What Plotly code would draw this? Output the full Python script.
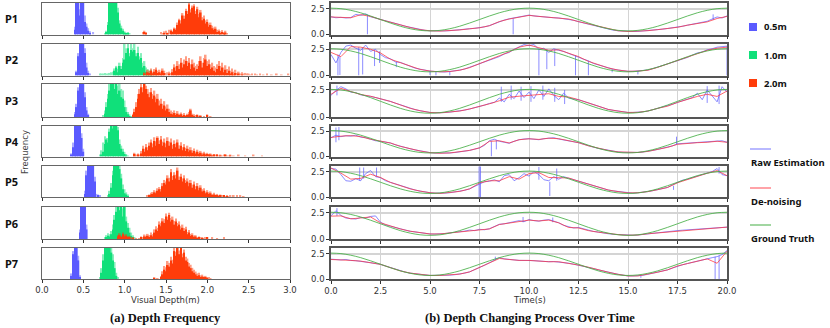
import plotly.graph_objects as go

# ---------------- histogram data (heights in % of panel) ----------------
BIN_W = 0.02

P1_STARTS = (0.40, 0.76, 1.20)
P1_BLUE_DEN = [15, 100, 100, 60, 100, 100, 40, 25, 12, 5]
P1_BLUE_RAW = [25, 100, 100, 80, 100, 100, 60, 35, 20, 10, 0, 8]
P1_GREEN_DEN = [0, 8, 30, 100, 100, 100, 100, 100, 70, 35, 20, 12, 6, 3, 5]
P1_GREEN_RAW = [5, 12, 40, 100, 100, 100, 100, 100, 85, 45, 28, 18, 10, 6, 8, 4]
P1_RED_DEN = [0, 0, 8, 5, 0, 0, 0, 0, 0, 0, 0, 0, 0, 0, 4, 0, 5, 0, 12, 8, 18, 15, 30, 45, 35, 60, 50, 75, 65, 95,
              70, 85, 90, 65, 80, 55, 70, 45, 50, 35, 40, 25, 30, 20, 15, 18, 8, 10, 5, 8, 4, 6, 0]
P1_RED_RAW = [0, 8, 12, 8, 0, 0, 0, 0, 0, 0, 0, 0, 8, 5, 10, 12, 6, 15, 16, 12, 22, 20, 38, 50, 45, 68, 60, 82, 75, 100,
              80, 92, 96, 75, 88, 65, 78, 55, 60, 45, 48, 35, 38, 28, 22, 25, 15, 16, 10, 14, 8, 12, 4]

P2_STARTS = (0.42, 0.70, 1.24)
P2_BLUE_DEN = [10, 60, 100, 100, 100, 70, 25, 8]
P2_BLUE_RAW = [15, 70, 100, 100, 100, 85, 40, 15, 6]
P2_GREEN_DEN = [0, 0, 0, 0, 0, 0, 0, 0, 0, 15, 25, 10, 30, 20, 40, 50, 70, 85, 60, 80, 75, 80, 60, 70, 50, 55, 25, 30,
                12, 8, 5, 8, 0]
P2_GREEN_RAW = [5, 6, 4, 8, 6, 5, 8, 10, 12, 22, 30, 20, 40, 30, 55, 100, 85, 100, 70, 100, 85, 100, 70, 90, 60, 70, 40,
                45, 25, 20, 15, 18, 8, 10, 5]
P2_RED_DEN = [5, 0, 10, 8, 15, 5, 12, 18, 8, 10, 5, 15, 8, 0, 0, 5, 0, 10, 25, 15, 30, 20, 40, 25, 35, 45, 30, 40, 20, 35,
              25, 15, 20, 30, 45, 25, 40, 50, 30, 35, 20, 25, 15, 10, 20, 30, 15, 25, 10, 18, 8, 15, 5, 10, 3, 8, 0, 5, 0, 3]
P2_RED_RAW = [10, 8, 18, 15, 22, 12, 20, 25, 15, 18, 12, 22, 15, 8, 10, 12, 8, 20, 35, 28, 45, 35, 55, 40, 50, 60, 45, 55,
              35, 50, 40, 30, 35, 45, 60, 40, 55, 65, 45, 50, 35, 40, 30, 25, 35, 45, 30, 40, 25, 32, 20, 28, 15, 22, 12,
              18, 8, 12, 6, 10, 5, 8, 4, 6, 3, 5, 0, 4, 3, 0, 5, 0, 3, 0, 4, 0, 0, 3, 0, 0, 4, 0, 0, 3, 0, 0, 0, 4]

P3_STARTS = (0.40, 0.74, 1.10)
P3_BLUE_DEN = [8, 30, 80, 100, 100, 100, 60, 20, 5]
P3_BLUE_RAW = [15, 40, 90, 100, 100, 100, 75, 30, 10]
P3_GREEN_DEN = [0, 10, 30, 55, 80, 100, 100, 85, 100, 70, 80, 60, 55, 30, 15, 8, 3]
P3_GREEN_RAW = [5, 20, 45, 70, 100, 100, 100, 100, 100, 95, 100, 85, 80, 50, 30, 15, 8, 3]
P3_RED_DEN = [5, 15, 30, 55, 70, 90, 75, 100, 85, 70, 60, 75, 55, 65, 45, 55, 35, 40, 25, 35, 20, 25, 15, 10, 8, 12, 5,
              10, 4, 8, 3, 6, 2, 5, 8, 20, 5, 3, 0, 4, 0, 3, 0, 0, 0, 6]
P3_RED_RAW = [10, 25, 45, 70, 85, 100, 90, 100, 95, 85, 75, 88, 70, 80, 60, 70, 50, 55, 40, 48, 32, 38, 25, 20, 15, 20,
              12, 18, 10, 14, 8, 12, 6, 10, 15, 25, 10, 8, 4, 8, 3, 6, 0, 3, 0, 8, 0, 3]

P4_STARTS = (0.36, 0.70, 1.10)
P4_BLUE_DEN = [5, 30, 100, 100, 100, 100, 60, 15]
P4_BLUE_RAW = [10, 45, 100, 100, 100, 100, 75, 25]
P4_GREEN_DEN = [0, 5, 15, 40, 55, 45, 80, 100, 90, 100, 100, 85, 40, 25, 15, 8, 3]
P4_GREEN_RAW = [5, 20, 45, 65, 60, 60, 90, 100, 100, 100, 100, 95, 55, 35, 25, 15, 8, 3]
P4_RED_DEN = [0, 8, 0, 6, 0, 10, 25, 15, 30, 20, 35, 45, 30, 50, 35, 60, 40, 55, 35, 45, 30, 50, 35, 45, 25, 40, 30, 45,
              25, 35, 20, 30, 18, 25, 15, 20, 12, 18, 10, 15, 8, 12, 6, 10, 5, 8, 4, 6, 3, 5, 0, 4, 0, 3, 0, 0, 4, 0, 0, 3]
P4_RED_RAW = [0, 12, 5, 10, 4, 18, 35, 25, 40, 30, 45, 55, 42, 62, 48, 65, 52, 66, 48, 58, 42, 62, 48, 58, 38, 52, 42,
              55, 36, 46, 30, 40, 28, 35, 24, 30, 20, 26, 16, 22, 14, 18, 12, 15, 10, 12, 8, 10, 6, 8, 5, 7, 3, 6, 2, 4,
              6, 3, 2, 5, 0, 3, 0, 0, 4, 0, 0, 0, 3, 0, 0, 0, 0, 4, 0, 0, 0, 0, 3]

P5_STARTS = (0.52, 0.80, 1.28)
P5_BLUE_DEN = [10, 70, 100, 100, 100, 100, 50, 0, 5]
P5_BLUE_RAW = [20, 85, 100, 100, 100, 100, 65, 10, 8, 4]
P5_GREEN_DEN = [0, 10, 30, 70, 100, 100, 100, 90, 60, 25, 12, 8, 3]
P5_GREEN_RAW = [5, 20, 45, 85, 100, 100, 100, 100, 75, 40, 25, 15, 8]
P5_RED_DEN = [0, 4, 8, 10, 15, 12, 20, 25, 18, 35, 45, 40, 60, 50, 80, 55, 70, 60, 85, 55, 65, 50, 60, 45, 50, 35, 45,
              30, 40, 25, 35, 22, 30, 18, 20, 12, 15, 10, 12, 6, 8, 5, 6, 3, 5, 0, 4, 0, 3]
P5_RED_RAW = [4, 8, 14, 16, 22, 18, 28, 32, 26, 45, 55, 50, 70, 62, 90, 68, 80, 72, 95, 66, 75, 60, 70, 55, 60, 45, 55,
              40, 50, 35, 45, 30, 38, 25, 28, 18, 22, 15, 18, 10, 14, 8, 10, 6, 8, 4, 6, 3, 5, 2, 4, 0, 6, 0, 4, 0, 5, 0,
              3, 0]

P6_STARTS = (0.46, 0.76, 0.92)
P6_BLUE_DEN = [20, 100, 100, 100, 30]
P6_BLUE_RAW = [30, 100, 100, 100, 45]
P6_GREEN_DEN = [0, 5, 10, 8, 15, 30, 60, 85, 100, 90, 100, 70, 100, 55, 35, 20, 10, 5]
P6_GREEN_RAW = [5, 12, 18, 15, 25, 45, 75, 100, 100, 100, 100, 95, 100, 70, 50, 35, 20, 12, 5]
P6_RED_DEN = [8, 12, 5, 15, 8, 10, 4, 6, 0, 3, 0, 0, 0, 0, 4, 0, 8, 5, 10, 6, 12, 8, 20, 30, 25, 45, 40, 55, 50, 70, 60,
              75, 55, 60, 45, 55, 40, 45, 30, 35, 25, 30, 15, 20, 10, 12, 5, 8, 3, 5, 0, 3, 0, 0, 4]
P6_RED_RAW = [12, 18, 10, 20, 14, 15, 8, 10, 4, 6, 0, 3, 0, 3, 8, 5, 14, 10, 16, 12, 20, 15, 30, 40, 35, 55, 50, 65, 62,
              80, 70, 82, 66, 70, 56, 64, 50, 55, 40, 45, 34, 38, 22, 28, 16, 18, 10, 12, 6, 8, 4, 6, 3, 4, 6, 0, 0, 4,
              0, 0, 3, 0, 0, 0, 4]

P7_STARTS = (0.36, 0.70, 1.36)
P7_BLUE_DEN = [10, 80, 100, 100, 60, 5]
P7_BLUE_RAW = [18, 90, 100, 100, 75, 12]
P7_GREEN_DEN = [0, 20, 60, 100, 100, 100, 100, 85, 60, 35, 10]
P7_GREEN_RAW = [5, 35, 80, 100, 100, 100, 100, 100, 80, 55, 20, 5]
P7_RED_DEN = [3, 0, 0, 0, 5, 15, 30, 25, 45, 40, 60, 50, 90, 75, 100, 80, 100, 70, 85, 60, 55, 40, 35, 25, 20, 15, 10,
              12, 6, 8, 4, 5, 2]
P7_RED_RAW = [5, 0, 2, 0, 10, 25, 42, 38, 58, 52, 72, 62, 100, 88, 100, 92, 100, 82, 95, 72, 66, 52, 46, 36, 30, 24, 18,
              20, 12, 14, 8, 10, 5, 4, 3]

# ---------------- time-series data ----------------
T_DEN = [round(0.5 * i, 2) for i in range(41)]
T_RAW = [round(0.25 * i, 2) for i in range(81)]

GROUND_TRUTH = [2.55, 2.50, 2.34, 2.10, 1.79, 1.45, 1.11, 0.80, 0.56, 0.40,
                0.35, 0.40, 0.56, 0.80, 1.11, 1.45, 1.79, 2.10, 2.34, 2.50,
                2.55, 2.50, 2.34, 2.10, 1.79, 1.45, 1.11, 0.80, 0.56, 0.40,
                0.35, 0.40, 0.56, 0.80, 1.11, 1.45, 1.79, 2.10, 2.34, 2.50,
                2.55]

R1_RAW = [1.72, 1.62, 1.66, 1.60, 1.64, 1.95, 1.85, 2.00,
          1.72, 1.60, 1.48, 1.30, 1.17, 1.08, 0.94, 0.80,
          0.69, 0.56, 0.47, 0.40, 0.36, 0.34, 0.33, 0.35,
          0.37, 0.40, 0.45, 0.50, 0.56, 0.60, 0.66, 0.74,
          0.86, 1.05, 1.28, 1.40, 1.52, 1.60, 1.66, 1.78,
          1.88, 1.80, 1.74, 1.70, 1.67, 1.62, 1.60, 1.55,
          1.50, 1.38, 1.24, 1.12, 1.03, 0.90, 0.79, 0.64,
          0.52, 0.42, 0.36, 0.32, 0.29, 0.29, 0.30, 0.33,
          0.37, 0.42, 0.47, 0.52, 0.58, 0.63, 0.71, 0.80,
          0.90, 0.98, 1.06, 1.14, 1.28, 1.50, 1.70, 1.60,
          1.80]
R1_DEN = [1.70, 1.65, 1.62, 1.92, 1.75, 1.45, 1.18, 0.95, 0.68, 0.47,
          0.36, 0.33, 0.37, 0.44, 0.55, 0.65, 0.85, 1.25, 1.50, 1.65,
          1.85, 1.75, 1.68, 1.60, 1.50, 1.25, 1.02, 0.78, 0.52, 0.36,
          0.29, 0.30, 0.37, 0.47, 0.57, 0.70, 0.90, 1.06, 1.22, 1.55,
          1.75]
R1_SPIKES = [(1.84, 1.9, 0.0), (9.2, 1.55, 0.0), (19.3, 1.4, 1.95)]

R2_RAW = [2.00, 1.20, 2.20, 2.80, 2.90, 2.60, 2.40, 2.90,
          2.30, 2.50, 2.00, 1.70, 1.60, 1.30, 1.25, 1.05,
          0.85, 0.70, 0.60, 0.48, 0.42, 0.38, 0.35, 0.33,
          0.38, 0.42, 0.52, 0.62, 0.78, 0.95, 1.15, 1.30,
          1.48, 1.65, 1.80, 2.05, 2.20, 2.50, 2.75, 2.95,
          2.85, 2.95, 2.50, 2.60, 2.20, 2.55, 2.40, 2.30,
          2.10, 1.95, 1.75, 1.55, 1.40, 1.15, 1.00, 0.85,
          0.72, 0.60, 0.52, 0.45, 0.40, 0.40, 0.42, 0.45,
          0.52, 0.65, 0.80, 0.95, 1.10, 1.25, 1.40, 1.55,
          1.72, 1.95, 2.15, 2.25, 2.45, 2.55, 2.70, 2.75,
          2.80]
R2_DEN = [2.20, 1.80, 2.75, 2.70, 2.50, 2.15, 1.55, 1.22, 0.85, 0.58,
          0.42, 0.35, 0.38, 0.50, 0.75, 1.12, 1.45, 1.85, 2.25, 2.70,
          2.90, 2.65, 2.40, 2.45, 2.15, 1.80, 1.35, 1.02, 0.72, 0.52,
          0.40, 0.42, 0.50, 0.78, 1.10, 1.40, 1.75, 2.10, 2.40, 2.60,
          2.70]
R2_SPIKES = [(0.35, 2.0, 0.0), (0.45, 1.8, 0.05), (1.4, 2.7, 0.0), (1.6, 2.6, 0.1), (2.2, 2.4, 0.9),
             (2.45, 2.3, 1.2), (3.3, 1.3, 0.8), (5.0, 0.42, 0.05), (5.3, 0.4, 0.0), (6.0, 0.38, 0.0),
             (10.5, 2.5, 0.0), (10.9, 2.5, 0.6), (11.3, 2.5, 0.9), (12.35, 1.9, 0.0), (13.0, 1.4, 0.0),
             (14.2, 0.6, 0.3), (15.5, 0.42, 0.1), (20.0, 2.8, 0.0)]

R3_RAW = [2.00, 2.45, 2.80, 2.60, 2.30, 2.25, 2.05, 2.00,
          1.90, 1.80, 1.70, 1.58, 1.44, 1.28, 1.12, 0.96,
          0.80, 0.68, 0.58, 0.48, 0.42, 0.39, 0.38, 0.41,
          0.45, 0.50, 0.55, 0.64, 0.74, 0.84, 0.96, 1.10,
          1.25, 1.35, 1.75, 1.40, 2.10, 1.70, 2.40, 1.80,
          2.30, 1.70, 2.50, 1.90, 2.60, 2.00, 1.60, 2.20,
          1.75, 1.70, 1.60, 1.45, 1.30, 1.12, 0.95, 0.82,
          0.70, 0.62, 0.55, 0.48, 0.42, 0.42, 0.43, 0.48,
          0.55, 0.68, 0.80, 0.90, 1.00, 1.18, 1.35, 1.50,
          1.65, 1.80, 2.20, 1.60, 2.50, 1.90, 1.40, 2.80,
          2.30]
R3_DEN = [2.10, 2.65, 2.35, 2.08, 1.92, 1.70, 1.44, 1.12, 0.80, 0.58,
          0.42, 0.38, 0.45, 0.55, 0.74, 0.96, 1.22, 1.50, 1.83, 1.92,
          2.00, 2.10, 2.15, 1.90, 1.85, 1.60, 1.30, 0.95, 0.70, 0.55,
          0.42, 0.43, 0.55, 0.80, 1.00, 1.35, 1.65, 1.90, 2.10, 1.90,
          2.40]
R3_SPIKES = [(0.3, 2.0, 2.9), (8.6, 1.4, 2.8), (9.1, 1.6, 2.9), (9.6, 1.5, 2.8), (10.1, 1.4, 2.85),
             (10.7, 1.6, 2.9), (11.3, 1.4, 2.7), (11.8, 1.2, 2.5), (19.0, 1.3, 2.85), (19.6, 1.2, 2.9)]

R4_RAW = [1.85, 2.10, 1.95, 2.05, 2.00, 2.10, 1.90, 1.85,
          1.70, 1.55, 1.50, 1.40, 1.33, 1.15, 1.00, 0.88,
          0.76, 0.65, 0.54, 0.45, 0.38, 0.34, 0.32, 0.33,
          0.35, 0.39, 0.44, 0.52, 0.60, 0.72, 0.85, 1.10,
          1.55, 1.70, 1.50, 1.40, 1.30, 1.50, 1.65, 1.72,
          1.75, 1.70, 1.65, 1.75, 1.80, 1.85, 1.72, 1.65,
          1.55, 1.45, 1.36, 1.20, 1.05, 0.92, 0.80, 0.70,
          0.60, 0.52, 0.45, 0.41, 0.39, 0.39, 0.40, 0.44,
          0.50, 0.60, 0.70, 0.80, 0.90, 1.05, 1.25, 1.28,
          1.30, 1.34, 1.36, 1.38, 1.42, 1.45, 1.52, 1.55,
          1.40]
R4_DEN = [1.87, 2.00, 2.05, 1.96, 1.70, 1.49, 1.33, 1.00, 0.76, 0.54,
          0.38, 0.32, 0.35, 0.44, 0.60, 0.85, 1.49, 1.55, 1.33, 1.65,
          1.74, 1.68, 1.80, 1.75, 1.55, 1.36, 1.05, 0.80, 0.60, 0.45,
          0.39, 0.40, 0.50, 0.70, 0.90, 1.20, 1.30, 1.36, 1.40, 1.50,
          1.40]
R4_SPIKES = [(0.25, 1.4, 2.85), (0.4, 1.6, 2.9), (8.1, 1.5, 0.0), (8.35, 1.6, 0.7), (17.45, 1.2, 1.95)]

R5_RAW = [2.80, 2.75, 2.20, 1.60, 1.55, 1.80, 1.60, 2.30,
          2.60, 2.00, 1.90, 1.60, 1.44, 1.28, 1.12, 0.96,
          0.80, 0.68, 0.58, 0.48, 0.42, 0.38, 0.35, 0.38,
          0.42, 0.48, 0.55, 0.66, 0.80, 1.05, 1.30, 1.50,
          1.55, 1.70, 1.50, 2.10, 2.20, 1.60, 1.90, 2.30,
          2.05, 2.50, 2.20, 1.70, 1.60, 2.00, 1.75, 2.00,
          1.85, 1.70, 1.56, 1.40, 1.25, 1.10, 0.94, 0.80,
          0.69, 0.60, 0.53, 0.46, 0.40, 0.38, 0.42, 0.46,
          0.53, 0.62, 0.72, 0.82, 0.94, 1.20, 1.45, 1.65,
          1.75, 1.90, 2.05, 2.20, 2.40, 2.50, 2.80, 2.20,
          2.10]
R5_DEN = [2.85, 2.35, 1.76, 1.83, 2.24, 1.92, 1.44, 1.12, 0.80, 0.58,
          0.42, 0.35, 0.42, 0.55, 0.80, 1.38, 1.60, 1.60, 2.00, 1.76,
          2.30, 2.40, 1.92, 1.90, 1.87, 1.56, 1.25, 0.94, 0.69, 0.53,
          0.40, 0.42, 0.53, 0.72, 0.94, 1.40, 1.72, 2.03, 2.34, 2.60,
          2.10]
R5_SPIKES = [(1.45, 1.6, 2.9), (1.65, 1.8, 2.9), (2.3, 2.0, 2.9), (7.48, 3.0, 0.0), (7.55, 0.0, 3.0),
             (10.5, 1.7, 2.95), (11.05, 1.5, 0.1), (11.4, 1.6, 2.8), (17.3, 1.1, 0.7), (19.6, 2.3, 2.95)]

R6_RAW = [2.20, 2.70, 2.25, 2.00, 1.95, 1.90, 2.05, 2.00,
          2.15, 2.20, 1.60, 1.35, 1.22, 1.08, 0.96, 0.85,
          0.74, 0.66, 0.58, 0.52, 0.48, 0.47, 0.48, 0.52,
          0.58, 0.62, 0.67, 0.75, 0.85, 0.80, 0.92, 0.88,
          0.98, 1.20, 1.40, 1.45, 1.55, 1.60, 1.75, 1.65,
          1.85, 1.75, 1.70, 1.80, 1.85, 1.70, 1.55, 1.30,
          1.15, 1.05, 1.10, 0.95, 0.82, 0.72, 0.66, 0.56,
          0.50, 0.45, 0.42, 0.38, 0.36, 0.36, 0.38, 0.44,
          0.50, 0.54, 0.58, 0.64, 0.70, 0.75, 0.80, 0.84,
          0.87, 0.90, 0.94, 0.97, 1.00, 1.05, 1.07, 1.10,
          1.13]
R6_DEN = [2.18, 2.20, 1.92, 2.02, 2.10, 1.54, 1.22, 0.96, 0.74, 0.58,
          0.48, 0.48, 0.58, 0.67, 0.83, 0.90, 0.96, 1.38, 1.54, 1.70,
          1.80, 1.72, 1.80, 1.54, 1.10, 1.05, 0.80, 0.65, 0.50, 0.42,
          0.36, 0.38, 0.50, 0.58, 0.70, 0.80, 0.87, 0.94, 1.00, 1.07,
          1.13]
R6_SPIKES = [(0.3, 2.2, 2.95), (9.7, 1.6, 2.1), (11.2, 1.6, 2.05)]

R7_RAW = [1.95, 1.90, 1.88, 1.92, 1.82, 1.80, 1.75, 1.68,
          1.60, 1.52, 1.44, 1.28, 1.12, 0.95, 0.80, 0.68,
          0.58, 0.50, 0.45, 0.40, 0.35, 0.34, 0.35, 0.36,
          0.38, 0.42, 0.48, 0.58, 0.70, 0.90, 1.12, 1.35,
          1.60, 1.85, 2.10, 1.98, 1.90, 1.88, 1.83, 1.85,
          1.82, 1.80, 1.75, 1.72, 1.70, 1.72, 1.68, 1.62,
          1.55, 1.46, 1.37, 1.27, 1.16, 1.03, 0.90, 0.78,
          0.67, 0.56, 0.46, 0.38, 0.30, 0.30, 0.30, 0.36,
          0.46, 0.56, 0.67, 0.78, 0.90, 1.08, 1.28, 1.40,
          1.52, 1.65, 1.77, 1.88, 1.98, 2.10, 2.20, 2.40,
          2.80]
R7_DEN = [1.92, 1.90, 1.83, 1.76, 1.60, 1.44, 1.12, 0.80, 0.58, 0.45,
          0.35, 0.35, 0.38, 0.48, 0.70, 1.12, 1.60, 2.02, 1.92, 1.83,
          1.83, 1.76, 1.70, 1.70, 1.55, 1.37, 1.16, 0.90, 0.67, 0.46,
          0.30, 0.30, 0.46, 0.67, 0.90, 1.28, 1.52, 1.77, 1.98, 1.55,
          2.74]
R7_SPIKES = [(19.4, 2.2, 0.0), (19.6, 2.3, 0.0), (15.65, 0.3, 0.12), (8.3, 1.9, 2.2)]

PANEL_LABELS = ["P1", "P2", "P3", "P4", "P5", "P6", "P7"]
DIST_LABELS = ["0.5m", "1.0m", "2.0m"]
SERIES_LABELS = ["Raw Estimation", "De-noising", "Ground Truth"]
HIST_TICKS = [0.0, 0.5, 1.0, 1.5, 2.0, 2.5, 3.0]
TIME_TICKS = [0.0, 2.5, 5.0, 7.5, 10.0, 12.5, 15.0, 17.5, 20.0]
DEPTH_TICKS = [0.0, 2.5]

# ---------------- assemble tables ----------------
HIST = [
    (P1_STARTS, [(P1_BLUE_RAW, P1_BLUE_DEN), (P1_GREEN_RAW, P1_GREEN_DEN), (P1_RED_RAW, P1_RED_DEN)]),
    (P2_STARTS, [(P2_BLUE_RAW, P2_BLUE_DEN), (P2_GREEN_RAW, P2_GREEN_DEN), (P2_RED_RAW, P2_RED_DEN)]),
    (P3_STARTS, [(P3_BLUE_RAW, P3_BLUE_DEN), (P3_GREEN_RAW, P3_GREEN_DEN), (P3_RED_RAW, P3_RED_DEN)]),
    (P4_STARTS, [(P4_BLUE_RAW, P4_BLUE_DEN), (P4_GREEN_RAW, P4_GREEN_DEN), (P4_RED_RAW, P4_RED_DEN)]),
    (P5_STARTS, [(P5_BLUE_RAW, P5_BLUE_DEN), (P5_GREEN_RAW, P5_GREEN_DEN), (P5_RED_RAW, P5_RED_DEN)]),
    (P6_STARTS, [(P6_BLUE_RAW, P6_BLUE_DEN), (P6_GREEN_RAW, P6_GREEN_DEN), (P6_RED_RAW, P6_RED_DEN)]),
    (P7_STARTS, [(P7_BLUE_RAW, P7_BLUE_DEN), (P7_GREEN_RAW, P7_GREEN_DEN), (P7_RED_RAW, P7_RED_DEN)]),
]
SERIES = [
    (R1_RAW, R1_DEN, R1_SPIKES), (R2_RAW, R2_DEN, R2_SPIKES), (R3_RAW, R3_DEN, R3_SPIKES),
    (R4_RAW, R4_DEN, R4_SPIKES), (R5_RAW, R5_DEN, R5_SPIKES), (R6_RAW, R6_DEN, R6_SPIKES),
    (R7_RAW, R7_DEN, R7_SPIKES),
]

# ---------------- styling / layout ----------------
W, H = 830, 328
HIST_COLORS = ["#5a5aff", "#10e07a", "#ff3c0a"]
RAW_C, DEN_C, GT_C = "rgba(90,90,255,0.7)", "rgba(255,50,60,0.75)", "rgba(70,175,70,0.85)"
LEFT_X = (42, 290)
RIGHT_X = (331, 727)
ROW_TOP = [3, 43.5, 84, 125.5, 166, 207, 248]
ROW_BOT = [34.5, 75.5, 117, 156.5, 197, 239, 279]
FRAME = "#666666"
GRID = "#d4d4d4"
TICKFONT = dict(family="DejaVu Sans", size=8.5, color="#333333")


def px(p):
    return p / W


def py(p):
    return 1 - p / H


def names(n):
    s = "" if n == 1 else str(n)
    return "x" + s, "y" + s, "xaxis" + s, "yaxis" + s


fig = go.Figure()
layout_axes = {}

for i in range(7):
    # ----- left: histograms -----
    n = i + 1
    xr, yr, xk, yk = names(n)
    starts, groups = HIST[i]
    for g, (raw, den) in enumerate(groups):
        for vals, op in ((raw, 0.5), (den, 1.0)):
            fig.add_trace(go.Bar(
                x=[starts[g] + k * BIN_W for k in range(len(vals))], y=vals, width=BIN_W,
                marker=dict(color=HIST_COLORS[g], line=dict(width=0)), opacity=op,
                xaxis=xr, yaxis=yr, showlegend=False, hoverinfo="skip"))
    layout_axes[xk] = dict(domain=[px(LEFT_X[0]), px(LEFT_X[1])], range=[0, 3], anchor=yr,
                           tickmode="array", tickvals=HIST_TICKS, ticktext=[f"{v:.1f}" for v in HIST_TICKS],
                           ticks="outside", ticklen=3, tickwidth=1, tickcolor="#333",
                           showticklabels=(n == 7), tickfont=TICKFONT,
                           showline=True, linecolor=FRAME, linewidth=1, mirror=True,
                           showgrid=False, zeroline=False)
    layout_axes[yk] = dict(domain=[py(ROW_BOT[i]), py(ROW_TOP[i])], range=[0, 100], anchor=xr,
                           showticklabels=False, ticks="", showline=True, linecolor=FRAME, linewidth=1,
                           mirror=True, showgrid=False, zeroline=False)

    # ----- right: time series -----
    m = i + 8
    xr2, yr2, xk2, yk2 = names(m)
    raw, den, spikes = SERIES[i]
    fig.add_trace(go.Scatter(x=T_RAW, y=raw, mode="lines", line=dict(color=RAW_C, width=1),
                             xaxis=xr2, yaxis=yr2, showlegend=False, hoverinfo="skip"))
    sx, sy = [], []
    for (t, a, b) in spikes:
        sx += [t, t, None]
        sy += [a, b, None]
    fig.add_trace(go.Scatter(x=sx, y=sy, mode="lines", line=dict(color=RAW_C, width=1),
                             xaxis=xr2, yaxis=yr2, showlegend=False, hoverinfo="skip"))
    fig.add_trace(go.Scatter(x=T_DEN, y=den, mode="lines", line=dict(color=DEN_C, width=1),
                             xaxis=xr2, yaxis=yr2, showlegend=False, hoverinfo="skip"))
    fig.add_trace(go.Scatter(x=T_DEN, y=GROUND_TRUTH, mode="lines", line=dict(color=GT_C, width=1, shape="spline"),
                             xaxis=xr2, yaxis=yr2, showlegend=False, hoverinfo="skip"))
    layout_axes[xk2] = dict(domain=[px(RIGHT_X[0]), px(RIGHT_X[1])], range=[0, 20], anchor=yr2,
                            tickmode="array", tickvals=TIME_TICKS, ticktext=[f"{v:.1f}" for v in TIME_TICKS],
                            ticks="outside", ticklen=3, tickwidth=1, tickcolor="#333",
                            showticklabels=(m == 14), tickfont=TICKFONT,
                            showline=True, linecolor="#555", linewidth=1.5, mirror=True,
                            showgrid=True, gridcolor=GRID, gridwidth=1, zeroline=False)
    layout_axes[yk2] = dict(domain=[py(ROW_BOT[i]), py(ROW_TOP[i])], range=[0, 3.05], anchor=xr2,
                            tickmode="array", tickvals=DEPTH_TICKS, ticktext=[f"{v:.1f}" for v in DEPTH_TICKS],
                            ticks="outside", ticklen=3, tickwidth=1, tickcolor="#333", tickfont=TICKFONT,
                            showline=True, linecolor="#555", linewidth=1.5, mirror=True,
                            showgrid=True, gridcolor=GRID, gridwidth=1.5, zeroline=False)


def note(x, y, text, font, xanchor="center", yanchor="middle", **kw):
    return dict(x=px(x), y=py(y), xref="paper", yref="paper", text=text, showarrow=False,
                xanchor=xanchor, yanchor=yanchor, font=font, **kw)


annotations = []
for i, lab in enumerate(PANEL_LABELS):
    annotations.append(note(3, (ROW_TOP[i] + ROW_BOT[i]) / 2, f"<b>{lab}</b>",
                            dict(family="Noto Sans", size=11, color="#111"), xanchor="left"))
annotations.append(note(25, 152, "Frequency", dict(family="DejaVu Sans", size=8.5, color="#444"), textangle=-90))
annotations.append(note(165, 300, "Visual Depth(m)", dict(family="DejaVu Sans", size=8.5, color="#333")))
annotations.append(note(529, 300, "Time(s)", dict(family="DejaVu Sans", size=8.5, color="#333")))
annotations.append(note(165, 318, "<b>(a) Depth Frequency</b>",
                        dict(family="Liberation Serif", size=12.5, color="#111")))
annotations.append(note(530, 318, "<b>(b) Depth Changing Process Over Time</b>",
                        dict(family="Liberation Serif", size=12.5, color="#111")))

shapes = []
sq_y = [27, 55, 83]
for j, lab in enumerate(DIST_LABELS):
    shapes.append(dict(type="rect", xref="paper", yref="paper", x0=px(749), x1=px(757),
                       y0=py(sq_y[j] + 4), y1=py(sq_y[j] - 4), fillcolor=HIST_COLORS[j], line=dict(width=0)))
    annotations.append(note(762, sq_y[j], f"<b>{lab}</b>", dict(family="Noto Sans", size=9.5, color="#111"),
                            xanchor="left"))
line_y = [149, 188, 225]
line_c = [RAW_C, DEN_C, GT_C]
for j, lab in enumerate(SERIES_LABELS):
    shapes.append(dict(type="line", xref="paper", yref="paper", x0=px(750), x1=px(771),
                       y0=py(line_y[j]), y1=py(line_y[j]), line=dict(color=line_c[j], width=1.2)))
    annotations.append(note(749, line_y[j] + 13, f"<b>{lab}</b>", dict(family="Noto Sans", size=9.5, color="#111"),
                            xanchor="left"))

fig.update_layout(width=W, height=H, margin=dict(l=0, r=0, t=0, b=0, autoexpand=False),
                  paper_bgcolor="white", plot_bgcolor="white", barmode="overlay", showlegend=False,
                  font=dict(family="DejaVu Sans", size=9, color="#333"),
                  annotations=annotations, shapes=shapes, **layout_axes)

fig.write_html("out.html", config={"responsive": False, "displayModeBar": False},
               post_script="document.body.style.margin='0';document.body.style.overflow='hidden';")
